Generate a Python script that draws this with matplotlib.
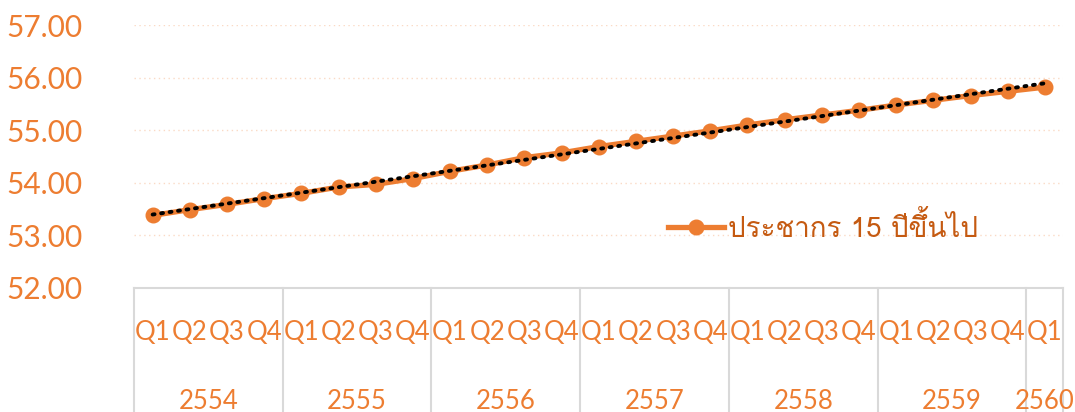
import numpy as np
import matplotlib
matplotlib.use("Agg")
import matplotlib.pyplot as plt
from matplotlib import font_manager
from matplotlib.ft2font import FT2Font
import matplotlib.transforms as mtransforms

# ข้อมูล
years = ["2554", "2555", "2556", "2557", "2558", "2559", "2560"]
quarters = ["Q1", "Q2", "Q3", "Q4"] * 6 + ["Q1"]
population = [53.38, 53.49, 53.59, 53.70, 53.80, 53.92, 53.97, 54.08,
              54.22, 54.34, 54.48, 54.57, 54.69, 54.79, 54.89, 54.99,
              55.10, 55.20, 55.29, 55.38, 55.48, 55.57, 55.66, 55.74,
              55.82]
series_name = "ประชากร 15 ปีขึ้นไป"

orange = "#ED7D31"
dark_orange = "#C55A11"

# หาฟอนต์ที่มีอักษรไทย
thai_font = None
for f in font_manager.fontManager.ttflist:
    try:
        if 0x0E1B in FT2Font(f.fname).get_charmap():
            thai_font = f.name
            break
    except Exception:
        pass
thai_family = [thai_font, "DejaVu Sans"] if thai_font else ["DejaVu Sans"]

plt.rcParams["font.family"] = ["Lato", "DejaVu Sans"]

fig = plt.figure(figsize=(10.75, 4.12), dpi=100)
ax = fig.add_axes([0.1247, 0.301, 0.8646, 0.638])

x = np.arange(len(population))
line, = ax.plot(x, population, color=orange, lw=3.8, marker="o", ms=10.5,
                label=series_name, zorder=3)

# เส้นแนวโน้ม
k, b = np.polyfit(x, population, 1)
ax.plot(x, k * x + b, color="black", lw=2.8, ls=(0, (0.5, 1.7)),
        dash_capstyle="round", zorder=4)

ax.set_xlim(-0.5, len(population) - 0.5)
ax.set_ylim(52, 57)
ax.set_yticks(np.arange(52, 58, 1))
ax.set_yticklabels([f"{v:.2f}" for v in range(52, 58)])
ax.tick_params(axis="y", length=0, pad=37, labelsize=21.5, labelcolor=orange)
ax.set_xticks([])

for v in range(53, 58):
    ax.axhline(v, color="#F8CBAD", lw=1, ls=(0, (1, 2.5)), zorder=1, alpha=0.7)

for s in ["top", "right", "left"]:
    ax.spines[s].set_visible(False)
ax.spines["bottom"].set_color("#D9D9D9")
ax.spines["bottom"].set_linewidth(1.5)

# ป้ายแกน x แบบสองชั้น
trans = mtransforms.blended_transform_factory(ax.transData, ax.transAxes)
bounds = [-0.5, 3.5, 7.5, 11.5, 15.5, 19.5, 23.5, 24.5]
for xb in bounds:
    ax.plot([xb, xb], [0, -0.49], color="#D9D9D9", lw=1.5, transform=trans,
            clip_on=False)
for i, q in enumerate(quarters):
    ax.text(i, -0.17, q, transform=trans, ha="center", va="center",
            fontsize=18.5, color=orange)
for j, yr in enumerate(years):
    mid = (bounds[j] + bounds[j + 1]) / 2
    ax.text(mid, -0.43, yr, transform=trans, ha="center", va="center",
            fontsize=18.5, color=orange)

leg = ax.legend(handles=[line], loc="center left",
                bbox_to_anchor=(0.548, 0.23), frameon=False,
                handlelength=2.0, handletextpad=0.15,
                prop={"family": thai_family, "size": 20})
for t in leg.get_texts():
    t.set_color(dark_orange)

fig.savefig("out.png", dpi=100)
